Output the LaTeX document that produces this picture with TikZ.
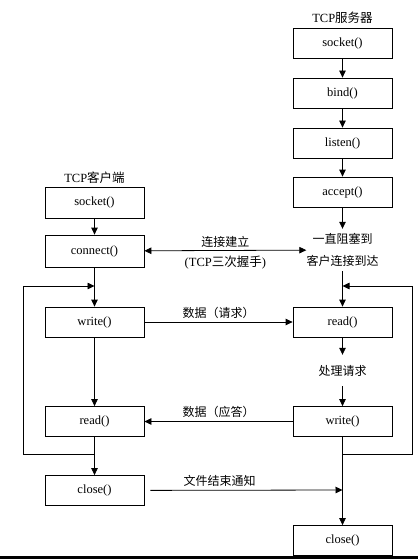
\documentclass[tikz,border=0pt]{standalone}
\usepackage{fontspec}
\setmainfont{Liberation Serif}
\newfontfamily\cjk{Noto Sans CJK SC}
\usetikzlibrary{arrows.meta,positioning}

\tikzset{
  callbox/.style={draw, line width=0.8pt, minimum width=99pt, minimum height=30pt,
    inner sep=0pt, font=\fontsize{12.5}{14}\selectfont},
  title/.style={font=\fontsize{12.5}{14}\selectfont, inner sep=1pt},
  note/.style={font=\fontsize{12}{22}\selectfont\cjk, inner sep=1pt, align=center},
  flow/.style={-{Triangle[length=7pt,width=6.5pt]}, line width=0.8pt},
  both/.style={{Triangle[length=7pt,width=6.5pt]}-{Triangle[length=7pt,width=6.5pt]}, line width=0.8pt},
}

\begin{document}
\begin{tikzpicture}[x=1pt,y=-1pt]
    \useasboundingbox (0,0) rectangle (418,559);
    \pgfmathsetmacro{\clientX}{94.5}
    \pgfmathsetmacro{\serverX}{342.5}
    \pgfmathsetmacro{\leftLoop}{23}
    \pgfmathsetmacro{\rightLoop}{412}
    \pgfmathsetmacro{\loopTop}{286}
    \pgfmathsetmacro{\loopBottom}{454}

    % Server
    \node[callbox] (ssocket) at (\serverX,43) {socket()};
    \node[callbox] (sbind) at (\serverX,93) {bind()};
    \node[callbox] (slisten) at (\serverX,143) {listen()};
    \node[callbox] (saccept) at (\serverX,192) {accept()};
    \node[note, minimum height=42pt, inner sep=0pt] (wait) at (\serverX,250) {一直阻塞到\\客户连接到达};
    \node[callbox] (sread) at (\serverX,322) {read()};
    \node[note, minimum height=31pt] (proc) at (\serverX,370.5) {处理请求};
    \node[callbox] (swrite) at (\serverX,421.5) {write()};
    \node[callbox] (sclose) at (\serverX,540.5) {close()};
    \node[title, above=3pt of ssocket] (stitle) {TCP{\cjk 服务器}};

    % Client
    \node[callbox, minimum height=31pt] (csocket) at (\clientX,202.5) {socket()};
    \node[callbox, minimum height=32pt] (cconnect) at (\clientX,251) {connect()};
    \node[callbox] (cwrite) at (\clientX,322) {write()};
    \node[callbox] (cread) at (\clientX,421.5) {read()};
    \node[callbox] (cclose) at (\clientX,490.5) {close()};
    \node[title, above=2pt of csocket] (ctitle) {TCP{\cjk 客户端}};

    % Loop points
    \coordinate (cjoin) at (\clientX,\loopTop);
    \coordinate (cback) at (\clientX,\loopBottom);
    \coordinate (cloopt) at (\leftLoop,\loopTop);
    \coordinate (cloopb) at (\leftLoop,\loopBottom);
    \coordinate (sjoin) at (\serverX,\loopTop);
    \coordinate (sback) at (\serverX,\loopBottom);
    \coordinate (sloopt) at (\rightLoop,\loopTop);
    \coordinate (sloopb) at (\rightLoop,\loopBottom);
    \coordinate (seof) at (\serverX,490);

    % Server flow
    \draw[flow] (ssocket) -- (sbind);
    \draw[flow] (sbind) -- (slisten);
    \draw[flow] (slisten) -- (saccept);
    \draw[flow] (saccept) -- (wait);
    \draw[flow] (wait) -- (sread);
    \draw[flow] (sread) -- (proc);
    \draw[flow] (proc) -- (swrite);
    \draw[flow] (swrite) -- (sclose);
    \draw[flow] (sback) -- (sloopb) -- (sloopt) -- (sjoin);

    % Client flow
    \draw[flow] (csocket) -- (cconnect);
    \draw[flow] (cconnect) -- (cwrite);
    \draw[flow] (cwrite) -- (cread);
    \draw[flow] (cread) -- (cclose);
    \draw[flow] (cback) -- (cloopb) -- (cloopt) -- (cjoin);

    % Between client and server
    \draw[both] (cconnect) -- node[note, above=2pt] {连接建立}
      node[title, below=4pt] {(TCP{\cjk 三次握手})} (wait);
    \draw[flow] (cwrite) -- node[note, above=2pt] {数据（请求）} (sread);
    \draw[flow] (swrite) -- node[note, above=2pt] {数据（应答）} (cread);
    \draw[flow, shorten <=6pt] (cclose) -- node[note, above=2pt, pos=0.38] {文件结束通知} (seof);

    % Bottom edge
    \fill (0,556) rectangle (418,559);
\end{tikzpicture}
\end{document}
